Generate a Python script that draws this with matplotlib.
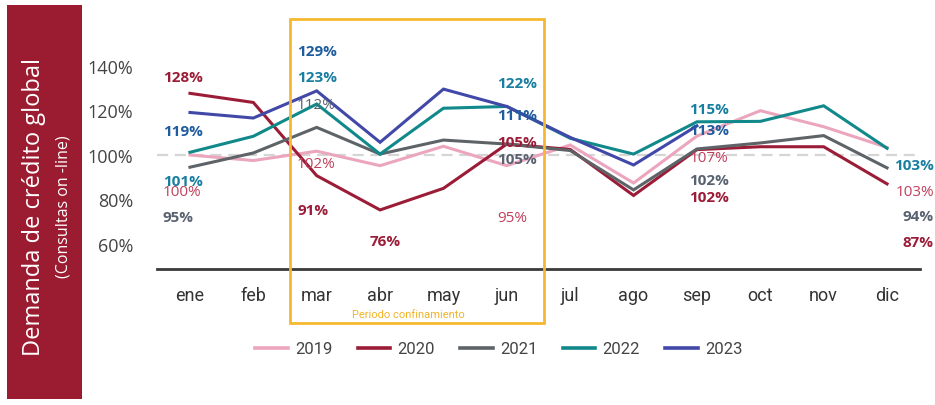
import matplotlib
matplotlib.use("Agg")
import matplotlib.pyplot as plt
from matplotlib.patches import Rectangle
from matplotlib.lines import Line2D

months = ["ene", "feb", "mar", "abr", "may", "jun", "jul", "ago", "sep", "oct", "nov", "dic"]
s2019 = [100, 97.5, 101.7, 95.2, 103.9, 95.2, 104.5, 87.4, 108.5, 119.9, 112.7, 103.4]
s2020 = [127.7, 123.6, 90.7, 75.3, 85.0, 104.9, 102.5, 81.8, 102.4, 103.7, 103.7, 87.0]
s2021 = [94.5, 100.9, 112.4, 100.4, 106.7, 104.9, 102.0, 84.3, 102.7, 105.4, 108.7, 94.2]
s2022 = [101.2, 108.4, 122.9, 100.4, 121.0, 121.8, 107.5, 100.4, 114.9, 115.1, 122.1, 103.0]
s2023 = [119.1, 116.6, 128.8, 105.7, 129.6, 121.8, 107.9, 95.5, 113.1]
years = ["2019", "2020", "2021", "2022", "2023"]
series = [s2019, s2020, s2021, s2022, s2023]
line_colors = ["#eba6be", "#9b1c36", "#5e6368", "#11898a", "#4148a8"]
yticks = [60, 80, 100, 120, 140]

# annotation texts: (text, month index, value, colour, bold, align)
c_blue = "#1f5c9e"
c_teal = "#187fa0"
c_red = "#9b1c36"
c_redl = "#c0405c"
c_gray = "#596270"
labels = [
    ("128%", -0.43, 135.1, c_red, True, "left"),
    ("119%", -0.43, 110.8, c_blue, True, "left"),
    ("101%", -0.43, 88.3, c_teal, True, "left"),
    ("100%", -0.43, 83.4, c_redl, False, "left"),
    ("95%", -0.43, 72.1, c_gray, True, "left"),
    ("129%", 1.69, 146.7, c_blue, True, "left"),
    ("123%", 1.69, 135.1, c_teal, True, "left"),
    ("112%", 1.69, 122.9, c_gray, False, "left"),
    ("102%", 1.69, 96.0, c_redl, False, "left"),
    ("91%", 1.69, 75.3, c_red, True, "left"),
    ("76%", 2.83, 61.3, c_red, True, "left"),
    ("122%", 4.85, 132.4, c_teal, True, "left"),
    ("111%", 4.85, 118.0, c_blue, True, "left"),
    ("105%", 4.85, 105.8, c_red, True, "left"),
    ("105%", 4.85, 98.2, c_gray, True, "left"),
    ("95%", 4.85, 72.1, c_redl, False, "left"),
    ("115%", 7.88, 120.7, c_teal, True, "left"),
    ("113%", 7.88, 111.2, c_blue, True, "left"),
    ("107%", 7.88, 98.7, c_redl, False, "left"),
    ("102%", 7.88, 88.8, c_gray, True, "left"),
    ("102%", 7.88, 81.1, c_red, True, "left"),
    ("103%", 11.74, 95.5, c_teal, True, "right"),
    ("103%", 11.74, 83.4, c_redl, False, "right"),
    ("94%", 11.74, 72.6, c_gray, True, "right"),
    ("87%", 11.74, 60.9, c_red, True, "right"),
]

W, H = 935, 406
fig = plt.figure(figsize=(W / 100, H / 100), dpi=100)
fig.patch.set_facecolor("white")

# left red panel
fig.patches.append(Rectangle((7 / W, 6 / H), 75 / W, 394 / H, transform=fig.transFigure,
                             facecolor="#9b1b30", edgecolor="none"))
fig.text(34 / W, (H - 207) / H, "Demanda de crédito global", rotation=90, color="white",
         fontsize=17, family="Open Sans", ha="center", va="center")
fig.text(63 / W, (H - 207) / H, "(Consultas on -line)", rotation=90, color="white",
         fontsize=11.5, family="Open Sans", ha="center", va="center")

ax = fig.add_axes([157 / W, (H - 270) / H, (920 - 157) / W, (270 - 20) / H])
ax.set_facecolor("none")
ax.set_xlim(-0.52, 11.52)
ax.set_ylim(48.76, 161.1)

ax.axhline(100, color="#d5d5d5", lw=1.6, ls=(0, (5, 3)), zorder=1)

x = list(range(len(months)))
for yr, s, c in zip(years, series, line_colors):
    ax.plot(x[:len(s)], s, color=c, lw=2.2, label=yr, zorder=3, solid_joinstyle="miter")

for t, xi, yv, c, b, ha in labels:
    ax.text(xi, yv, t, color=c, fontsize=11, family="Open Sans",
            fontweight="bold" if b else "normal", ha=ha, va="center", zorder=5, clip_on=False)

for side in ["top", "right", "left"]:
    ax.spines[side].set_visible(False)
ax.spines["bottom"].set_color("#3a3a3a")
ax.spines["bottom"].set_linewidth(2)
ax.set_xticks(x)
ax.set_xticklabels(months, family="Roboto", fontsize=13, color="#333333")
ax.tick_params(axis="x", length=0, pad=12)
ax.set_yticks(yticks)
ax.set_yticklabels([f"{v}%" for v in yticks], family="Open Sans", fontsize=13, color="#444444")
ax.tick_params(axis="y", length=0, pad=17)

# confinement box
fig.patches.append(Rectangle((290 / W, (H - 324) / H), 254 / W, 304 / H, transform=fig.transFigure,
                             facecolor="none", edgecolor="#f5b830", lw=2, zorder=10))
fig.text(408 / W, (H - 315) / H, "Periodo confinamiento", color="#f0b429", fontsize=8,
         family="Roboto", ha="center", va="center")

handles = [Line2D([0], [0], color=c, lw=2.6) for c in line_colors]
fig.legend(handles, years, loc="center", bbox_to_anchor=(499 / W, (H - 350) / H), ncol=5,
           frameon=False, prop={"family": "Roboto", "size": 12}, handlelength=1.95,
           columnspacing=1.5, handletextpad=0.45, labelcolor="#444444")

fig.savefig("out.png", dpi=100)
